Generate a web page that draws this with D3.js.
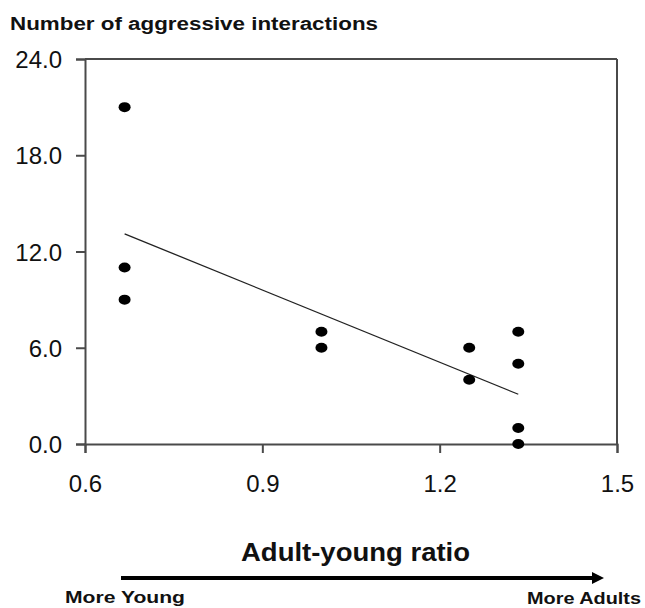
<!DOCTYPE html>
<html>
<head>
<meta charset="utf-8">
<script src="https://cdn.jsdelivr.net/npm/d3@7"></script>
<style>
  html, body { margin: 0; padding: 0; background: #fff; }
  svg { display: block; font-family: "Liberation Sans", Arial, sans-serif; }
</style>
</head>
<body>
<div id="chart"></div>
<script>
// ---- data ----
const pointX = [0.667, 0.667, 0.667, 1.0, 1.0, 1.25, 1.25, 1.333, 1.333, 1.333, 1.333];
const pointY = [21, 11, 9, 7, 6, 6, 4, 7, 5, 1, 0];
const trendX = [0.667, 1.333];
const trendY = [13.1, 3.1];
const xTicks = [0.6, 0.9, 1.2, 1.5];
const yTicks = [0, 6, 12, 18, 24];
const yTitle = "Number of aggressive interactions";
const xTitle = "Adult-young ratio";
const leftNote = "More Young";
const rightNote = "More Adults";

const W = 645, H = 608;
const plot = { left: 85, right: 617, top: 59, bottom: 444 };

const svg = d3.select("#chart").append("svg").attr("width", W).attr("height", H);

const x = d3.scaleLinear().domain([0.6, 1.5]).range([plot.left, plot.right]);
const y = d3.scaleLinear().domain([0, 24]).range([plot.bottom, plot.top]);

const axisColor = "#4a4a4a";

// frame: top and right
svg.append("line").attr("x1", plot.left).attr("x2", plot.right)
  .attr("y1", plot.top).attr("y2", plot.top)
  .attr("stroke", axisColor).attr("stroke-width", 2);
svg.append("line").attr("x1", plot.right).attr("x2", plot.right)
  .attr("y1", plot.top).attr("y2", plot.bottom)
  .attr("stroke", axisColor).attr("stroke-width", 2);

// x axis
const xAxis = svg.append("g").attr("transform", `translate(0,${plot.bottom})`)
  .call(d3.axisBottom(x).tickValues(xTicks).tickFormat(d3.format(".1f")).tickSize(9).tickPadding(22));
// y axis
const yAxis = svg.append("g").attr("transform", `translate(${plot.left},0)`)
  .call(d3.axisLeft(y).tickValues(yTicks).tickFormat(d3.format(".1f")).tickSize(9).tickPadding(14));

[xAxis, yAxis].forEach(g => {
  g.select(".domain").attr("stroke", axisColor).attr("stroke-width", 2);
  g.selectAll(".tick line").attr("stroke", axisColor).attr("stroke-width", 2);
  g.selectAll(".tick text").attr("fill", "#111")
    .style("font-family", '"Liberation Sans", Arial, sans-serif')
    .style("font-size", "24px");
});
yAxis.selectAll(".tick text").attr("dy", "0.36em");

// trend line
svg.append("path")
  .datum(trendX.map((d, i) => [d, trendY[i]]))
  .attr("d", d3.line().x(d => x(d[0])).y(d => y(d[1])))
  .attr("fill", "none").attr("stroke", "#222").attr("stroke-width", 1.3);

// points
svg.selectAll("ellipse.pt").data(pointX.map((d, i) => [d, pointY[i]]))
  .enter().append("ellipse").attr("class", "pt")
  .attr("cx", d => x(d[0])).attr("cy", d => y(d[1]))
  .attr("rx", 6).attr("ry", 5).attr("fill", "#000");

// y title
svg.append("text").attr("x", 10).attr("y", 30)
  .attr("font-weight", "bold").attr("font-size", 18)
  .attr("textLength", 368).attr("lengthAdjust", "spacingAndGlyphs")
  .attr("fill", "#111").text(yTitle);

// x title
svg.append("text").attr("x", 241).attr("y", 561)
  .attr("font-weight", "bold").attr("font-size", 25)
  .attr("textLength", 229).attr("lengthAdjust", "spacingAndGlyphs")
  .attr("fill", "#111").text(xTitle);

// arrow
svg.append("defs").append("marker").attr("id", "ah")
  .attr("viewBox", "0 0 10 10").attr("refX", 0).attr("refY", 5)
  .attr("markerWidth", 3).attr("markerHeight", 3).attr("orient", "auto")
  .append("path").attr("d", "M0,0 L10,5 L0,10 Z").attr("fill", "#000");
svg.append("line").attr("x1", 121).attr("x2", 592).attr("y1", 578).attr("y2", 578)
  .attr("stroke", "#000").attr("stroke-width", 4).attr("marker-end", "url(#ah)");

svg.append("text").attr("x", 65).attr("y", 603)
  .attr("font-weight", "bold").attr("font-size", 17)
  .attr("textLength", 120).attr("lengthAdjust", "spacingAndGlyphs")
  .attr("fill", "#111").text(leftNote);
svg.append("text").attr("x", 527).attr("y", 604)
  .attr("font-weight", "bold").attr("font-size", 17)
  .attr("textLength", 114).attr("lengthAdjust", "spacingAndGlyphs")
  .attr("fill", "#111").text(rightNote);
</script>
</body>
</html>
